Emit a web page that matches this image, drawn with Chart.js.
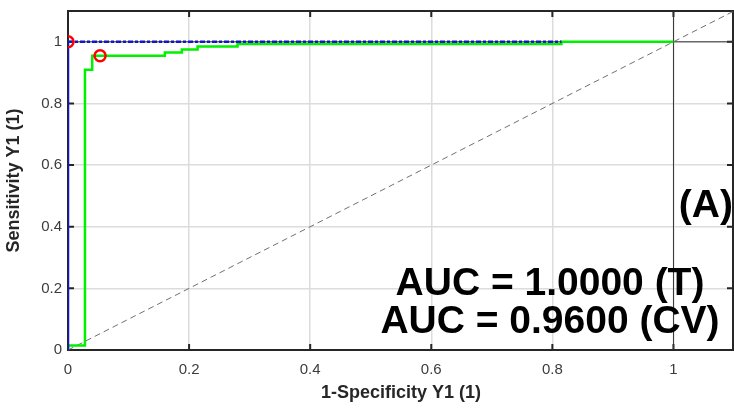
<!DOCTYPE html>
<html>
<head>
<meta charset="utf-8">
<script src="https://cdn.jsdelivr.net/npm/chart.js@4"></script>
<style>
  html, body { margin: 0; padding: 0; background: #ffffff; }
  canvas { display: block; }
</style>
</head>
<body>
<canvas id="roc" width="734" height="412"></canvas>
<script>
// ROC curve, training fit (T)
const fprTrain = [0, 0, 0.815];
const tprTrain = [0, 1, 1];

// ROC curve, cross-validated (CV)
const fprCV = [0, 0, 0.028, 0.028, 0.040, 0.040, 0.160, 0.160, 0.188, 0.188, 0.214, 0.214, 0.280, 0.280, 0.815, 0.815, 1.0];
const tprCV = [0, 0.015, 0.015, 0.909, 0.909, 0.955, 0.955, 0.965, 0.965, 0.975, 0.975, 0.985, 0.985, 0.993, 0.993, 1.0, 1.0];

// optimal operating points (T, CV)
const optFpr = [0, 0.053];
const optTpr = [1, 0.955];

// areas under the curves
const aucTrain = 1.0000;
const aucCV = 0.9600;

// axis ticks
const tickValues = [0, 0.2, 0.4, 0.6, 0.8, 1];
const axisMax = 1.1;

const pts = (xs, ys) => xs.map((x, i) => ({ x: x, y: ys[i] }));
const fmtTick = v => String(Number(v.toFixed(1)));

const FONT = '"Liberation Sans", Arial, sans-serif';
const AXIS_COLOR = '#262626';

const frame = {
  id: 'frame',
  beforeDatasetsDraw(chart) {
    const { ctx, chartArea: a, scales: { x, y } } = chart;
    ctx.save();
    // axes box
    ctx.strokeStyle = AXIS_COLOR;
    ctx.lineWidth = 2;
    ctx.strokeRect(a.left, a.top, a.right - a.left - 1, a.bottom - a.top);
    // inward tick marks on all four sides
    const len = 6;
    ctx.beginPath();
    tickValues.forEach(v => {
      const px = x.getPixelForValue(v);
      ctx.moveTo(px, a.bottom); ctx.lineTo(px, a.bottom - len);
      ctx.moveTo(px, a.top); ctx.lineTo(px, a.top + len);
      const py = y.getPixelForValue(v);
      ctx.moveTo(a.left, py); ctx.lineTo(a.left + len, py);
      ctx.moveTo(a.right - 1, py); ctx.lineTo(a.right - 1 - len, py);
    });
    ctx.stroke();
    ctx.restore();
  },
  afterDatasetsDraw(chart) {
    const { ctx } = chart;
    ctx.save();
    // panel tag and AUC annotations
    ctx.fillStyle = '#000000';
    ctx.font = 'bold 39px ' + FONT;
    ctx.textBaseline = 'alphabetic';
    ctx.textAlign = 'right';
    ctx.fillText('(A)', 733, 217);
    ctx.textAlign = 'center';
    ctx.fillText('AUC = ' + aucTrain.toFixed(4) + ' (T)', 550, 295);
    ctx.fillText('AUC = ' + aucCV.toFixed(4) + ' (CV)', 550, 333);
    ctx.restore();
  }
};

new Chart(document.getElementById('roc'), {
  type: 'scatter',
  data: {
    datasets: [
      {
        label: 'Optimal point',
        data: pts(optFpr, optTpr),
        showLine: false,
        pointRadius: 5.5,
        pointBorderWidth: 2.5,
        pointBorderColor: '#ff0000',
        pointBackgroundColor: 'rgba(0,0,0,0)',
        order: 0
      },
      {
        label: 'ROC (T)',
        data: pts(fprTrain, tprTrain),
        showLine: true,
        borderColor: '#1414c8',
        borderWidth: 2.5,
        pointRadius: 0,
        segment: {
          borderDash: c => (c.p0.parsed.y === c.p1.parsed.y ? [5, 2, 3, 2] : undefined)
        },
        order: 1
      },
      {
        label: 'ROC (CV)',
        data: pts(fprCV, tprCV),
        showLine: true,
        borderColor: '#00f000',
        borderWidth: 2.5,
        pointRadius: 0,
        order: 2
      },
      {
        label: 'Chance',
        data: pts([0, axisMax], [0, axisMax]),
        showLine: true,
        borderColor: '#707070',
        borderWidth: 1,
        borderDash: [6, 4],
        pointRadius: 0,
        order: 3
      },
      {
        label: 'Sensitivity 1',
        data: pts([0, axisMax], [1, 1]),
        showLine: true,
        borderColor: '#333333',
        borderWidth: 1,
        pointRadius: 0,
        order: 4
      },
      {
        label: 'Specificity 0',
        data: pts([1, 1], [0, axisMax]),
        showLine: true,
        borderColor: '#333333',
        borderWidth: 1,
        pointRadius: 0,
        order: 4
      }
    ]
  },
  options: {
    responsive: false,
    animation: false,
    events: [],
    layout: { autoPadding: false, padding: { top: 11, right: 0, left: 0, bottom: 0 } },
    plugins: { legend: { display: false }, tooltip: { enabled: false } },
    scales: {
      x: {
        type: 'linear',
        min: 0,
        max: axisMax,
        afterFit: s => { s.height = 62; s.paddingLeft = 0; s.paddingRight = 0; },
        border: { display: false },
        grid: { color: '#dcdcdc', lineWidth: 1.5, drawTicks: false },
        ticks: {
          stepSize: 0.2,
          includeBounds: false,
          padding: 11,
          color: '#3c3c3c',
          font: { family: FONT, size: 15 },
          callback: fmtTick
        },
        title: {
          display: true,
          text: '1-Specificity Y1 (1)',
          color: AXIS_COLOR,
          font: { family: FONT, size: 18, weight: 'bold' },
          padding: { top: 0, bottom: 8 }
        }
      },
      y: {
        type: 'linear',
        min: 0,
        max: axisMax,
        afterFit: s => { s.width = 68; s.paddingTop = 0; s.paddingBottom = 0; },
        border: { display: false },
        grid: { color: '#dcdcdc', lineWidth: 1.5, drawTicks: false },
        ticks: {
          stepSize: 0.2,
          includeBounds: false,
          padding: 6,
          color: '#3c3c3c',
          font: { family: FONT, size: 15 },
          callback: fmtTick
        },
        title: {
          display: true,
          text: 'Sensitivity Y1 (1)',
          color: AXIS_COLOR,
          font: { family: FONT, size: 18, weight: 'bold' },
          padding: { top: 3, bottom: 0 }
        }
      }
    }
  },
  plugins: [frame]
});
</script>
</body>
</html>
